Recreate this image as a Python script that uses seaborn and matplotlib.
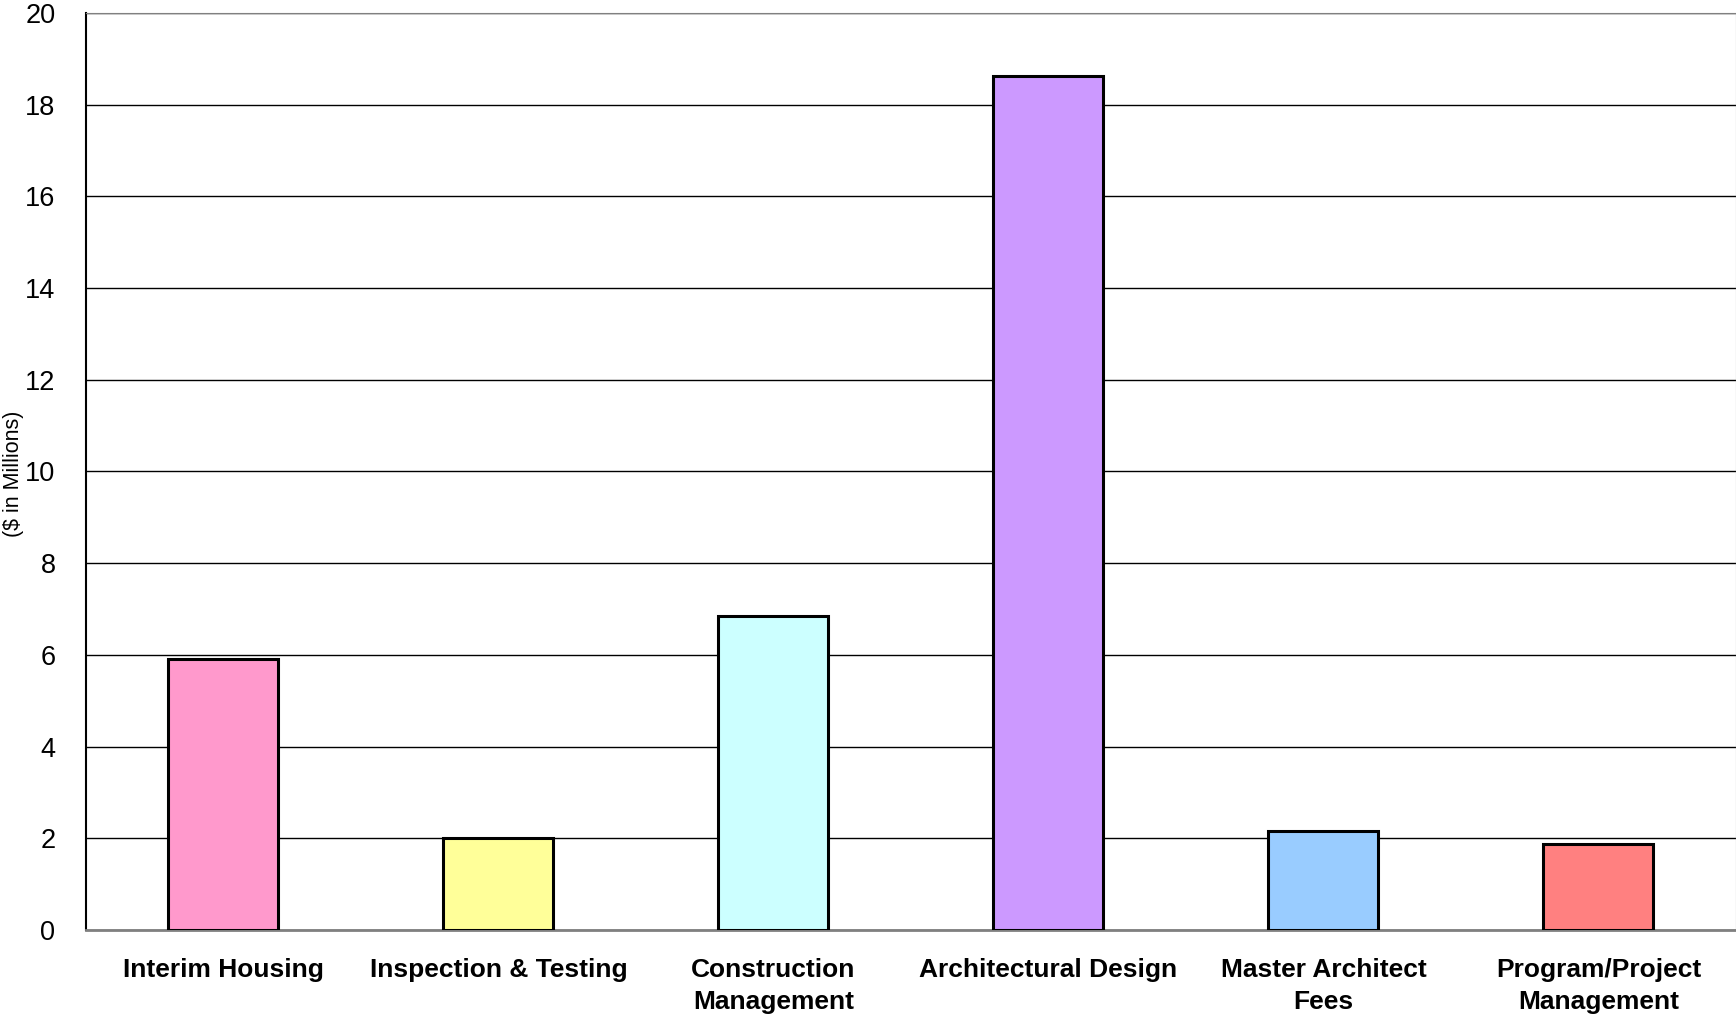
import pandas as pd
import numpy as np
import matplotlib
matplotlib.use('Agg')
import matplotlib.pyplot as plt
import seaborn as sns

categories = ['Interim Housing', 'Inspection & Testing', 'Construction\nManagement',
              'Architectural Design', 'Master Architect\nFees', 'Program/Project\nManagement']
values = [5.92, 2.0, 6.84, 18.62, 2.17, 1.88]
colors = ['#FF99CC', '#FFFF99', '#CCFFFF', '#CC99FF', '#99CCFF', '#FF8080']
yticks = [0, 2, 4, 6, 8, 10, 12, 14, 16, 18, 20]

df = pd.DataFrame({'category': categories, 'value': values})

sns.set_style('white')
plt.rcParams['font.family'] = ['Liberation Sans', 'DejaVu Sans']
plt.rcParams['text.color'] = 'black'
plt.rcParams['xtick.color'] = 'black'
plt.rcParams['ytick.color'] = 'black'

fig = plt.figure(figsize=(17.36, 10.19), dpi=100)
ax = fig.add_axes([0.0495, 0.0873, 0.9505, 0.9000])

sns.barplot(data=df, x='category', y='value', hue='category', palette=colors, saturation=1,
            legend=False, width=0.4, edgecolor='black', linewidth=2.2, ax=ax, zorder=3)

ax.set_ylim(0, 20)
ax.set_xlim(-0.5, 5.5)
ax.set_yticks(yticks)
ax.set_yticklabels([str(t) for t in yticks], fontsize=19.5)
ax.yaxis.grid(True, color='black', linewidth=1.0, zorder=0)
ax.set_axisbelow(True)

# category boundaries get the ticks, labels sit at the centres
ax.set_xticks(np.arange(-0.5, 6, 1))
ax.set_xticklabels([''] * 7)
ax.set_xticks(range(6), minor=True)
ax.set_xticklabels(categories, minor=True, fontsize=19, fontweight='bold', linespacing=1.45)
ax.tick_params(axis='x', which='major', direction='out', length=8, width=1.5, color='#808080')
ax.tick_params(axis='x', which='minor', length=0, pad=20)
ax.tick_params(axis='y', direction='out', length=10, width=1.2, color='black', pad=12)

ax.set_xlabel('')
ax.set_ylabel('')
fig.text(0.008, 0.535, '($ in Millions)', rotation=90, fontsize=15.5, ha='center', va='center')

ax.spines['left'].set_color('black')
ax.spines['left'].set_linewidth(1.5)
ax.spines['bottom'].set_color('#808080')
ax.spines['bottom'].set_linewidth(2)
ax.spines['right'].set_color('#808080')
ax.spines['top'].set_color('#808080')

fig.savefig('out.png', dpi=100)
